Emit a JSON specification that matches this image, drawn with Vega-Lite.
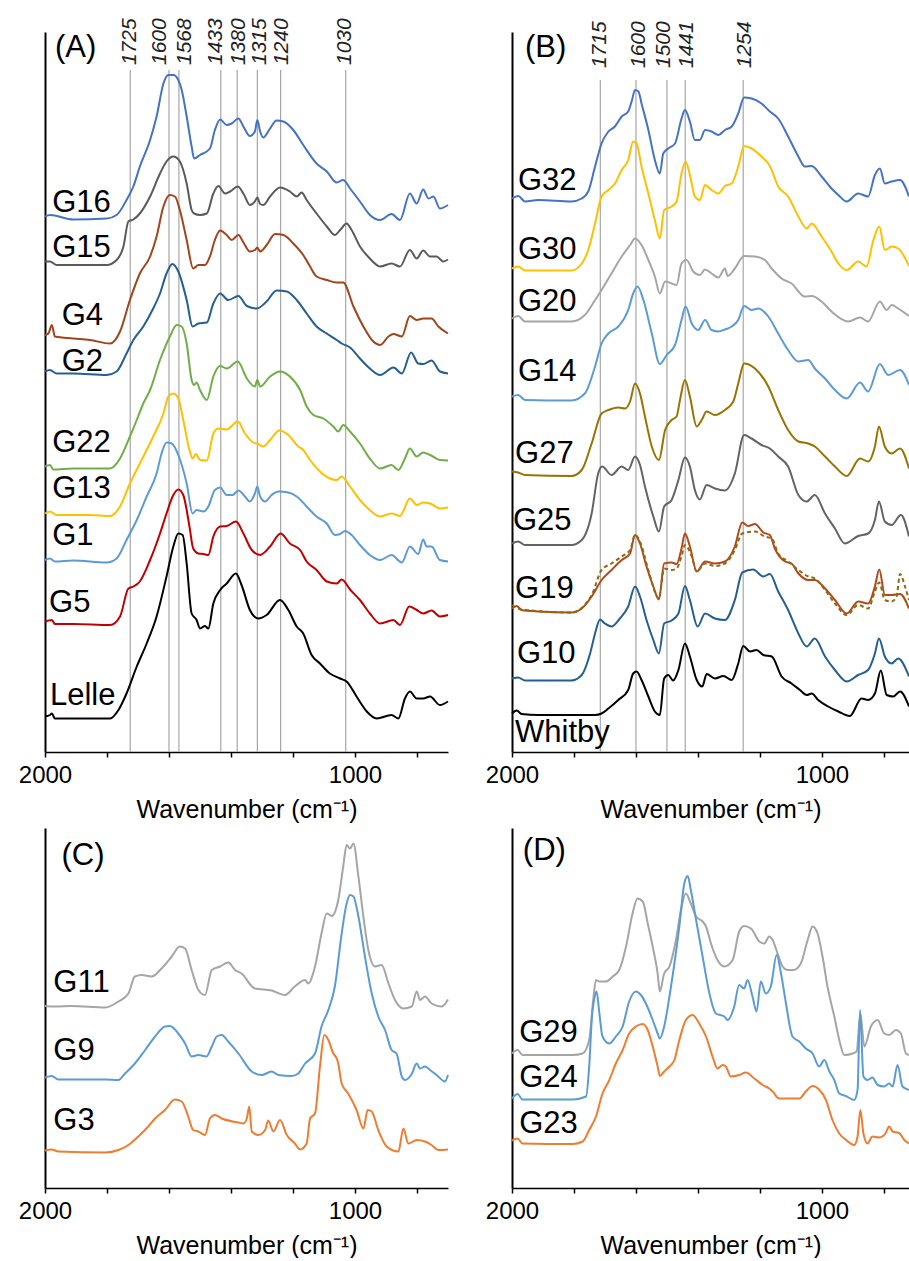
{
"$schema": "https://vega.github.io/schema/vega-lite/v6.json",
"padding": {"left": 18, "top": 18, "right": 0, "bottom": 0},
"background": "white",
"bounds": "flush",
"columns": 2,
"spacing": {"row": 76, "column": 64},
"config": {"view": {"stroke": null}, "font": "Liberation Sans",
  "line": {"interpolate": "monotone", "strokeWidth": 2},
  "axis": {"grid": false, "domainColor": "#000", "tickColor": "#000", "labelColor": "#000", "titleColor": "#000", "labelFont": "Liberation Sans", "titleFont": "Liberation Sans"}},
"datasets": {
"peaksA": [{"wn":1725,"lx":1727},{"wn":1600,"lx":1629},{"wn":1568,"lx":1550},{"wn":1433,"lx":1450},{"wn":1380,"lx":1373},{"wn":1315,"lx":1306},{"wn":1240,"lx":1234},{"wn":1030,"lx":1031}],
"peaksB": [{"wn":1715,"lx":1715},{"wn":1600,"lx":1589},{"wn":1500,"lx":1508},{"wn":1441,"lx":1434},{"wn":1254,"lx":1247}],
"labA": [{"s":"(A)","wn":1968,"a":139},{"s":"G16","wn":1977,"a":108},{"s":"G15","wn":1977,"a":99},{"s":"G4","wn":1946,"a":85.4},{"s":"G2","wn":1946,"a":76.2},{"s":"G22","wn":1977,"a":60},{"s":"G13","wn":1977,"a":50.8},{"s":"G1","wn":1977,"a":41.4},{"s":"G5","wn":1987,"a":28},{"s":"Lelle","wn":1984,"a":9.4}],
"labB": [{"s":"(B)","wn":1958,"a":139},{"s":"G32","wn":1981,"a":112.4},{"s":"G30","wn":1981,"a":98.6},{"s":"G20","wn":1981,"a":88.2},{"s":"G14","wn":1981,"a":74.2},{"s":"G27","wn":1990,"a":57.8},{"s":"G25","wn":1997,"a":44.4},{"s":"G19","wn":1990,"a":30.8},{"s":"G10","wn":1984,"a":17.8},{"s":"Whitby","wn":1990,"a":2.1}],
"labC": [{"s":"(C)","wn":1947,"a":64.6},{"s":"G11","wn":1973,"a":39.2},{"s":"G9","wn":1973,"a":25.6},{"s":"G3","wn":1973,"a":11.6}],
"labD": [{"s":"(D)","wn":1965,"a":65.6},{"s":"G29","wn":1977,"a":29.2},{"s":"G24","wn":1977,"a":20.2},{"s":"G23","wn":1977,"a":11}],
"A": [
{"s":"G16","wn":2000,"a":107.1},{"s":"G16","wn":1984,"a":107.4},{"s":"G16","wn":1909,"a":106.5},{"s":"G16","wn":1801,"a":106.7},{"s":"G16","wn":1769,"a":107.4},{"s":"G16","wn":1737,"a":110.4},{"s":"G16","wn":1715,"a":113.1},{"s":"G16","wn":1694,"a":117.1},{"s":"G16","wn":1661,"a":122.4},{"s":"G16","wn":1640,"a":127.1},{"s":"G16","wn":1618,"a":133.7},{"s":"G16","wn":1602,"a":135.4},{"s":"G16","wn":1586,"a":135.4},{"s":"G16","wn":1570,"a":134.4},{"s":"G16","wn":1559,"a":132.4},{"s":"G16","wn":1543,"a":127.1},{"s":"G16","wn":1527,"a":121.1},{"s":"G16","wn":1519,"a":118.7},{"s":"G16","wn":1500,"a":119.4},{"s":"G16","wn":1468,"a":120.7},{"s":"G16","wn":1452,"a":124.4},{"s":"G16","wn":1435,"a":126.5},{"s":"G16","wn":1414,"a":125.4},{"s":"G16","wn":1398,"a":125.7},{"s":"G16","wn":1376,"a":126.7},{"s":"G16","wn":1360,"a":125.1},{"s":"G16","wn":1339,"a":123.2},{"s":"G16","wn":1323,"a":124.1},{"s":"G16","wn":1315,"a":126.4},{"s":"G16","wn":1306,"a":124.1},{"s":"G16","wn":1296,"a":122.9},{"s":"G16","wn":1274,"a":124.7},{"s":"G16","wn":1253,"a":126.3},{"s":"G16","wn":1231,"a":126.1},{"s":"G16","wn":1199,"a":124.4},{"s":"G16","wn":1167,"a":121.4},{"s":"G16","wn":1124,"a":117.7},{"s":"G16","wn":1091,"a":116.1},{"s":"G16","wn":1059,"a":113.9},{"s":"G16","wn":1038,"a":114.4},{"s":"G16","wn":1016,"a":112.7},{"s":"G16","wn":984,"a":110.1},{"s":"G16","wn":952,"a":107.4},{"s":"G16","wn":919,"a":106.4},{"s":"G16","wn":882,"a":107.6},{"s":"G16","wn":855,"a":106.4},{"s":"G16","wn":823,"a":111.7},{"s":"G16","wn":801,"a":109.7},{"s":"G16","wn":780,"a":112.5},{"s":"G16","wn":763,"a":110.7},{"s":"G16","wn":747,"a":111.1},{"s":"G16","wn":726,"a":108.7},{"s":"G16","wn":700,"a":109.4},
{"s":"G15","wn":2000,"a":98.1},{"s":"G15","wn":1984,"a":98.1},{"s":"G15","wn":1962,"a":97.4},{"s":"G15","wn":1909,"a":97.4},{"s":"G15","wn":1801,"a":97.4},{"s":"G15","wn":1769,"a":98.4},{"s":"G15","wn":1747,"a":101.1},{"s":"G15","wn":1731,"a":106.1},{"s":"G15","wn":1715,"a":106.5},{"s":"G15","wn":1694,"a":107.7},{"s":"G15","wn":1661,"a":111.1},{"s":"G15","wn":1629,"a":115.7},{"s":"G15","wn":1608,"a":118.1},{"s":"G15","wn":1586,"a":119.1},{"s":"G15","wn":1565,"a":118.1},{"s":"G15","wn":1543,"a":113.7},{"s":"G15","wn":1527,"a":108.4},{"s":"G15","wn":1519,"a":107.7},{"s":"G15","wn":1500,"a":107.4},{"s":"G15","wn":1478,"a":107.7},{"s":"G15","wn":1457,"a":111.7},{"s":"G15","wn":1441,"a":113.2},{"s":"G15","wn":1419,"a":111.7},{"s":"G15","wn":1403,"a":112.1},{"s":"G15","wn":1378,"a":113.1},{"s":"G15","wn":1360,"a":111.7},{"s":"G15","wn":1339,"a":109.4},{"s":"G15","wn":1323,"a":110.1},{"s":"G15","wn":1315,"a":110.9},{"s":"G15","wn":1306,"a":109.6},{"s":"G15","wn":1296,"a":109.4},{"s":"G15","wn":1274,"a":111.1},{"s":"G15","wn":1242,"a":112.9},{"s":"G15","wn":1210,"a":112.1},{"s":"G15","wn":1188,"a":111.1},{"s":"G15","wn":1172,"a":111.9},{"s":"G15","wn":1156,"a":110.4},{"s":"G15","wn":1124,"a":107.7},{"s":"G15","wn":1091,"a":105.1},{"s":"G15","wn":1065,"a":103.4},{"s":"G15","wn":1048,"a":104.4},{"s":"G15","wn":1027,"a":105.7},{"s":"G15","wn":1011,"a":104.4},{"s":"G15","wn":984,"a":101.1},{"s":"G15","wn":952,"a":98.7},{"s":"G15","wn":919,"a":97.1},{"s":"G15","wn":882,"a":97.7},{"s":"G15","wn":855,"a":97.1},{"s":"G15","wn":823,"a":100.4},{"s":"G15","wn":801,"a":98.7},{"s":"G15","wn":780,"a":100.3},{"s":"G15","wn":758,"a":99.1},{"s":"G15","wn":737,"a":99.1},{"s":"G15","wn":715,"a":98.1},{"s":"G15","wn":700,"a":98.5},
{"s":"G4","wn":2000,"a":83.4},{"s":"G4","wn":1989,"a":83.7},{"s":"G4","wn":1978,"a":85.4},{"s":"G4","wn":1968,"a":83.1},{"s":"G4","wn":1909,"a":82.7},{"s":"G4","wn":1855,"a":82.4},{"s":"G4","wn":1790,"a":81.7},{"s":"G4","wn":1758,"a":84.1},{"s":"G4","wn":1726,"a":90.4},{"s":"G4","wn":1694,"a":95.7},{"s":"G4","wn":1661,"a":99.1},{"s":"G4","wn":1640,"a":103.1},{"s":"G4","wn":1618,"a":109.1},{"s":"G4","wn":1597,"a":111.4},{"s":"G4","wn":1581,"a":111.1},{"s":"G4","wn":1565,"a":108.4},{"s":"G4","wn":1543,"a":102.4},{"s":"G4","wn":1522,"a":96.7},{"s":"G4","wn":1505,"a":97.4},{"s":"G4","wn":1484,"a":97.4},{"s":"G4","wn":1468,"a":99.1},{"s":"G4","wn":1452,"a":102.4},{"s":"G4","wn":1435,"a":104.3},{"s":"G4","wn":1414,"a":103.4},{"s":"G4","wn":1398,"a":102.4},{"s":"G4","wn":1376,"a":103.4},{"s":"G4","wn":1360,"a":101.9},{"s":"G4","wn":1339,"a":100.1},{"s":"G4","wn":1323,"a":100.4},{"s":"G4","wn":1315,"a":100.9},{"s":"G4","wn":1306,"a":100.1},{"s":"G4","wn":1285,"a":101.4},{"s":"G4","wn":1258,"a":103.6},{"s":"G4","wn":1231,"a":103.4},{"s":"G4","wn":1199,"a":101.7},{"s":"G4","wn":1167,"a":99.4},{"s":"G4","wn":1145,"a":97.1},{"s":"G4","wn":1124,"a":95.1},{"s":"G4","wn":1091,"a":94.4},{"s":"G4","wn":1059,"a":93.9},{"s":"G4","wn":1038,"a":93.9},{"s":"G4","wn":1005,"a":89.1},{"s":"G4","wn":973,"a":85.1},{"s":"G4","wn":941,"a":82.1},{"s":"G4","wn":919,"a":81.4},{"s":"G4","wn":892,"a":83.1},{"s":"G4","wn":876,"a":83.6},{"s":"G4","wn":849,"a":83.1},{"s":"G4","wn":823,"a":87.2},{"s":"G4","wn":801,"a":86.4},{"s":"G4","wn":780,"a":86.7},{"s":"G4","wn":753,"a":86.7},{"s":"G4","wn":731,"a":85.1},{"s":"G4","wn":700,"a":83.7},
{"s":"G2","wn":2000,"a":76.1},{"s":"G2","wn":1984,"a":76.4},{"s":"G2","wn":1962,"a":75.7},{"s":"G2","wn":1909,"a":75.7},{"s":"G2","wn":1801,"a":75.4},{"s":"G2","wn":1769,"a":76.1},{"s":"G2","wn":1737,"a":79.7},{"s":"G2","wn":1715,"a":82.4},{"s":"G2","wn":1683,"a":85.1},{"s":"G2","wn":1651,"a":88.7},{"s":"G2","wn":1629,"a":91.7},{"s":"G2","wn":1608,"a":95.7},{"s":"G2","wn":1589,"a":97.6},{"s":"G2","wn":1570,"a":96.1},{"s":"G2","wn":1543,"a":90.4},{"s":"G2","wn":1524,"a":85.1},{"s":"G2","wn":1505,"a":85.7},{"s":"G2","wn":1478,"a":85.9},{"s":"G2","wn":1457,"a":89.7},{"s":"G2","wn":1435,"a":91.7},{"s":"G2","wn":1409,"a":90.4},{"s":"G2","wn":1376,"a":91.2},{"s":"G2","wn":1349,"a":89.2},{"s":"G2","wn":1317,"a":88.7},{"s":"G2","wn":1285,"a":90.1},{"s":"G2","wn":1253,"a":92.3},{"s":"G2","wn":1220,"a":92.1},{"s":"G2","wn":1188,"a":90.4},{"s":"G2","wn":1156,"a":87.7},{"s":"G2","wn":1124,"a":85.1},{"s":"G2","wn":1091,"a":83.7},{"s":"G2","wn":1059,"a":82.4},{"s":"G2","wn":1043,"a":81.7},{"s":"G2","wn":1016,"a":80.9},{"s":"G2","wn":984,"a":78.7},{"s":"G2","wn":952,"a":76.7},{"s":"G2","wn":919,"a":75.4},{"s":"G2","wn":876,"a":76.9},{"s":"G2","wn":849,"a":75.7},{"s":"G2","wn":819,"a":79.9},{"s":"G2","wn":796,"a":77.7},{"s":"G2","wn":780,"a":77.6},{"s":"G2","wn":753,"a":78.3},{"s":"G2","wn":726,"a":76.1},{"s":"G2","wn":700,"a":75.7},
{"s":"G22","wn":2000,"a":57.1},{"s":"G22","wn":1984,"a":57.4},{"s":"G22","wn":1973,"a":56.5},{"s":"G22","wn":1909,"a":56.7},{"s":"G22","wn":1790,"a":56.7},{"s":"G22","wn":1758,"a":58.7},{"s":"G22","wn":1726,"a":63.1},{"s":"G22","wn":1704,"a":66.4},{"s":"G22","wn":1683,"a":69.7},{"s":"G22","wn":1661,"a":72.4},{"s":"G22","wn":1629,"a":78.4},{"s":"G22","wn":1597,"a":83.1},{"s":"G22","wn":1575,"a":85.4},{"s":"G22","wn":1559,"a":85.1},{"s":"G22","wn":1543,"a":81.7},{"s":"G22","wn":1527,"a":74.4},{"s":"G22","wn":1519,"a":73.4},{"s":"G22","wn":1511,"a":73.9},{"s":"G22","wn":1500,"a":72.4},{"s":"G22","wn":1478,"a":70.4},{"s":"G22","wn":1457,"a":75.1},{"s":"G22","wn":1435,"a":77.2},{"s":"G22","wn":1414,"a":76.7},{"s":"G22","wn":1378,"a":78.1},{"s":"G22","wn":1349,"a":74.7},{"s":"G22","wn":1323,"a":73.1},{"s":"G22","wn":1315,"a":74.4},{"s":"G22","wn":1306,"a":73.1},{"s":"G22","wn":1274,"a":75.1},{"s":"G22","wn":1242,"a":76.1},{"s":"G22","wn":1210,"a":75.1},{"s":"G22","wn":1177,"a":72.4},{"s":"G22","wn":1156,"a":69.1},{"s":"G22","wn":1134,"a":67.4},{"s":"G22","wn":1102,"a":66.7},{"s":"G22","wn":1070,"a":65.1},{"s":"G22","wn":1054,"a":64.1},{"s":"G22","wn":1038,"a":65.4},{"s":"G22","wn":1016,"a":64.1},{"s":"G22","wn":984,"a":61.7},{"s":"G22","wn":952,"a":58.7},{"s":"G22","wn":919,"a":56.7},{"s":"G22","wn":882,"a":57.4},{"s":"G22","wn":860,"a":56.4},{"s":"G22","wn":839,"a":58.7},{"s":"G22","wn":823,"a":60.7},{"s":"G22","wn":801,"a":59.1},{"s":"G22","wn":780,"a":59.9},{"s":"G22","wn":758,"a":59.4},{"s":"G22","wn":726,"a":58.4},{"s":"G22","wn":700,"a":58.3},
{"s":"G13","wn":2000,"a":47.7},{"s":"G13","wn":1984,"a":48.1},{"s":"G13","wn":1962,"a":47.4},{"s":"G13","wn":1855,"a":47.4},{"s":"G13","wn":1790,"a":47.2},{"s":"G13","wn":1758,"a":49.1},{"s":"G13","wn":1726,"a":53.7},{"s":"G13","wn":1694,"a":57.7},{"s":"G13","wn":1651,"a":63.1},{"s":"G13","wn":1618,"a":67.7},{"s":"G13","wn":1602,"a":71.1},{"s":"G13","wn":1586,"a":71.7},{"s":"G13","wn":1570,"a":70.7},{"s":"G13","wn":1554,"a":66.4},{"s":"G13","wn":1534,"a":60.4},{"s":"G13","wn":1524,"a":58.7},{"s":"G13","wn":1513,"a":59.6},{"s":"G13","wn":1500,"a":58.4},{"s":"G13","wn":1478,"a":58.3},{"s":"G13","wn":1457,"a":63.7},{"s":"G13","wn":1441,"a":64.7},{"s":"G13","wn":1414,"a":64.5},{"s":"G13","wn":1378,"a":66.1},{"s":"G13","wn":1355,"a":63.7},{"s":"G13","wn":1328,"a":61.9},{"s":"G13","wn":1312,"a":61.6},{"s":"G13","wn":1296,"a":61.1},{"s":"G13","wn":1274,"a":62.4},{"s":"G13","wn":1244,"a":64.3},{"s":"G13","wn":1215,"a":63.4},{"s":"G13","wn":1183,"a":61.1},{"s":"G13","wn":1167,"a":60.4},{"s":"G13","wn":1145,"a":58.4},{"s":"G13","wn":1113,"a":56.1},{"s":"G13","wn":1081,"a":54.7},{"s":"G13","wn":1059,"a":54.4},{"s":"G13","wn":1043,"a":55.1},{"s":"G13","wn":1016,"a":53.1},{"s":"G13","wn":984,"a":50.4},{"s":"G13","wn":952,"a":48.4},{"s":"G13","wn":919,"a":47.1},{"s":"G13","wn":882,"a":47.7},{"s":"G13","wn":855,"a":47.2},{"s":"G13","wn":823,"a":50.7},{"s":"G13","wn":801,"a":49.4},{"s":"G13","wn":780,"a":49.9},{"s":"G13","wn":758,"a":49.7},{"s":"G13","wn":726,"a":48.7},{"s":"G13","wn":700,"a":48.9},
{"s":"G1","wn":2000,"a":38.4},{"s":"G1","wn":1984,"a":38.7},{"s":"G1","wn":1968,"a":38.1},{"s":"G1","wn":1909,"a":38.3},{"s":"G1","wn":1801,"a":37.9},{"s":"G1","wn":1769,"a":38.7},{"s":"G1","wn":1737,"a":42.4},{"s":"G1","wn":1704,"a":46.4},{"s":"G1","wn":1672,"a":51.1},{"s":"G1","wn":1640,"a":55.7},{"s":"G1","wn":1624,"a":59.7},{"s":"G1","wn":1608,"a":61.9},{"s":"G1","wn":1591,"a":61.7},{"s":"G1","wn":1570,"a":59.4},{"s":"G1","wn":1543,"a":53.7},{"s":"G1","wn":1524,"a":47.7},{"s":"G1","wn":1511,"a":48.4},{"s":"G1","wn":1489,"a":48.1},{"s":"G1","wn":1473,"a":49.1},{"s":"G1","wn":1452,"a":52.4},{"s":"G1","wn":1435,"a":52.9},{"s":"G1","wn":1414,"a":51.4},{"s":"G1","wn":1395,"a":51.4},{"s":"G1","wn":1376,"a":52.3},{"s":"G1","wn":1355,"a":51.1},{"s":"G1","wn":1339,"a":50.1},{"s":"G1","wn":1323,"a":51.7},{"s":"G1","wn":1315,"a":53.1},{"s":"G1","wn":1306,"a":51.1},{"s":"G1","wn":1290,"a":50.1},{"s":"G1","wn":1269,"a":51.4},{"s":"G1","wn":1247,"a":52.1},{"s":"G1","wn":1215,"a":51.9},{"s":"G1","wn":1188,"a":51.1},{"s":"G1","wn":1156,"a":49.1},{"s":"G1","wn":1124,"a":47.1},{"s":"G1","wn":1091,"a":45.7},{"s":"G1","wn":1065,"a":43.4},{"s":"G1","wn":1048,"a":43.6},{"s":"G1","wn":1032,"a":44.2},{"s":"G1","wn":1011,"a":43.4},{"s":"G1","wn":984,"a":41.4},{"s":"G1","wn":952,"a":39.4},{"s":"G1","wn":919,"a":38.4},{"s":"G1","wn":882,"a":39.4},{"s":"G1","wn":849,"a":37.9},{"s":"G1","wn":823,"a":41.1},{"s":"G1","wn":796,"a":39.6},{"s":"G1","wn":780,"a":42.5},{"s":"G1","wn":769,"a":41.1},{"s":"G1","wn":753,"a":41.1},{"s":"G1","wn":726,"a":38.4},{"s":"G1","wn":700,"a":38.1},
{"s":"G5","wn":2000,"a":26.1},{"s":"G5","wn":1978,"a":26.4},{"s":"G5","wn":1968,"a":25.6},{"s":"G5","wn":1909,"a":25.6},{"s":"G5","wn":1790,"a":25.4},{"s":"G5","wn":1758,"a":27.1},{"s":"G5","wn":1731,"a":32.7},{"s":"G5","wn":1715,"a":33.1},{"s":"G5","wn":1694,"a":34.1},{"s":"G5","wn":1661,"a":38.4},{"s":"G5","wn":1629,"a":43.7},{"s":"G5","wn":1608,"a":47.7},{"s":"G5","wn":1586,"a":51.4},{"s":"G5","wn":1570,"a":52.5},{"s":"G5","wn":1554,"a":51.4},{"s":"G5","wn":1534,"a":45.1},{"s":"G5","wn":1522,"a":40.7},{"s":"G5","wn":1505,"a":39.7},{"s":"G5","wn":1489,"a":39.6},{"s":"G5","wn":1473,"a":39.4},{"s":"G5","wn":1457,"a":43.1},{"s":"G5","wn":1435,"a":45.1},{"s":"G5","wn":1414,"a":45.2},{"s":"G5","wn":1384,"a":46.1},{"s":"G5","wn":1360,"a":43.7},{"s":"G5","wn":1333,"a":40.4},{"s":"G5","wn":1306,"a":39.4},{"s":"G5","wn":1274,"a":41.1},{"s":"G5","wn":1240,"a":43.7},{"s":"G5","wn":1210,"a":41.7},{"s":"G5","wn":1177,"a":40.4},{"s":"G5","wn":1156,"a":38.1},{"s":"G5","wn":1124,"a":36.4},{"s":"G5","wn":1091,"a":34.1},{"s":"G5","wn":1059,"a":33.7},{"s":"G5","wn":1043,"a":34.5},{"s":"G5","wn":1016,"a":32.5},{"s":"G5","wn":984,"a":30.4},{"s":"G5","wn":952,"a":27.7},{"s":"G5","wn":919,"a":25.7},{"s":"G5","wn":876,"a":26.4},{"s":"G5","wn":855,"a":25.4},{"s":"G5","wn":825,"a":29.1},{"s":"G5","wn":801,"a":28.4},{"s":"G5","wn":780,"a":27.7},{"s":"G5","wn":753,"a":28.3},{"s":"G5","wn":726,"a":27.1},{"s":"G5","wn":700,"a":27.4},
{"s":"Lelle","wn":2000,"a":7.1},{"s":"Lelle","wn":1984,"a":7.4},{"s":"Lelle","wn":1978,"a":7.7},{"s":"Lelle","wn":1968,"a":6.7},{"s":"Lelle","wn":1909,"a":6.7},{"s":"Lelle","wn":1790,"a":6.7},{"s":"Lelle","wn":1763,"a":8.4},{"s":"Lelle","wn":1737,"a":11.7},{"s":"Lelle","wn":1704,"a":17.1},{"s":"Lelle","wn":1672,"a":21.7},{"s":"Lelle","wn":1640,"a":27.1},{"s":"Lelle","wn":1608,"a":35.1},{"s":"Lelle","wn":1586,"a":41.1},{"s":"Lelle","wn":1570,"a":43.7},{"s":"Lelle","wn":1556,"a":43.4},{"s":"Lelle","wn":1543,"a":37.7},{"s":"Lelle","wn":1527,"a":27.7},{"s":"Lelle","wn":1511,"a":26.4},{"s":"Lelle","wn":1500,"a":24.7},{"s":"Lelle","wn":1484,"a":25.2},{"s":"Lelle","wn":1473,"a":24.7},{"s":"Lelle","wn":1457,"a":29.7},{"s":"Lelle","wn":1435,"a":32.4},{"s":"Lelle","wn":1414,"a":33.7},{"s":"Lelle","wn":1384,"a":35.7},{"s":"Lelle","wn":1366,"a":33.4},{"s":"Lelle","wn":1339,"a":28.4},{"s":"Lelle","wn":1312,"a":26.7},{"s":"Lelle","wn":1285,"a":27.4},{"s":"Lelle","wn":1242,"a":30.4},{"s":"Lelle","wn":1215,"a":28.4},{"s":"Lelle","wn":1188,"a":25.1},{"s":"Lelle","wn":1167,"a":23.7},{"s":"Lelle","wn":1140,"a":19.4},{"s":"Lelle","wn":1113,"a":17.7},{"s":"Lelle","wn":1081,"a":15.7},{"s":"Lelle","wn":1048,"a":14.7},{"s":"Lelle","wn":1027,"a":14.1},{"s":"Lelle","wn":995,"a":11.1},{"s":"Lelle","wn":962,"a":8.1},{"s":"Lelle","wn":930,"a":6.7},{"s":"Lelle","wn":882,"a":7.4},{"s":"Lelle","wn":860,"a":6.7},{"s":"Lelle","wn":839,"a":10.7},{"s":"Lelle","wn":823,"a":12.1},{"s":"Lelle","wn":801,"a":10.7},{"s":"Lelle","wn":780,"a":10.7},{"s":"Lelle","wn":758,"a":11.1},{"s":"Lelle","wn":726,"a":9.4},{"s":"Lelle","wn":700,"a":10.1}
],
"B": [
{"s":"G32","wn":2000,"a":110.7},{"s":"G32","wn":1980,"a":111.2},{"s":"G32","wn":1958,"a":110.1},{"s":"G32","wn":1915,"a":110.4},{"s":"G32","wn":1808,"a":110.1},{"s":"G32","wn":1775,"a":110.7},{"s":"G32","wn":1754,"a":112.1},{"s":"G32","wn":1732,"a":117.1},{"s":"G32","wn":1711,"a":121.7},{"s":"G32","wn":1689,"a":124.1},{"s":"G32","wn":1668,"a":125.1},{"s":"G32","wn":1646,"a":127.1},{"s":"G32","wn":1625,"a":128.1},{"s":"G32","wn":1614,"a":130.1},{"s":"G32","wn":1603,"a":132.4},{"s":"G32","wn":1592,"a":132.1},{"s":"G32","wn":1582,"a":129.7},{"s":"G32","wn":1560,"a":124.4},{"s":"G32","wn":1539,"a":118.4},{"s":"G32","wn":1523,"a":115.7},{"s":"G32","wn":1512,"a":119.7},{"s":"G32","wn":1496,"a":120.7},{"s":"G32","wn":1474,"a":121.7},{"s":"G32","wn":1453,"a":126.7},{"s":"G32","wn":1442,"a":128.4},{"s":"G32","wn":1426,"a":126.1},{"s":"G32","wn":1410,"a":122.4},{"s":"G32","wn":1394,"a":122.4},{"s":"G32","wn":1377,"a":124.4},{"s":"G32","wn":1356,"a":124.1},{"s":"G32","wn":1334,"a":123.4},{"s":"G32","wn":1313,"a":124.4},{"s":"G32","wn":1291,"a":125.1},{"s":"G32","wn":1270,"a":127.7},{"s":"G32","wn":1251,"a":130.9},{"s":"G32","wn":1227,"a":130.7},{"s":"G32","wn":1195,"a":129.7},{"s":"G32","wn":1168,"a":128.1},{"s":"G32","wn":1141,"a":126.7},{"s":"G32","wn":1109,"a":123.1},{"s":"G32","wn":1076,"a":119.1},{"s":"G32","wn":1055,"a":117.1},{"s":"G32","wn":1033,"a":117.2},{"s":"G32","wn":1001,"a":115.1},{"s":"G32","wn":969,"a":112.7},{"s":"G32","wn":947,"a":111.4},{"s":"G32","wn":920,"a":110.1},{"s":"G32","wn":883,"a":111.7},{"s":"G32","wn":851,"a":111.1},{"s":"G32","wn":829,"a":115.4},{"s":"G32","wn":813,"a":116.7},{"s":"G32","wn":797,"a":113.7},{"s":"G32","wn":775,"a":114.1},{"s":"G32","wn":748,"a":114.4},{"s":"G32","wn":719,"a":111.1},
{"s":"G30","wn":2000,"a":96.7},{"s":"G30","wn":1980,"a":97.1},{"s":"G30","wn":1958,"a":96.3},{"s":"G30","wn":1808,"a":96.3},{"s":"G30","wn":1775,"a":97.7},{"s":"G30","wn":1754,"a":100.4},{"s":"G30","wn":1732,"a":105.7},{"s":"G30","wn":1711,"a":111.1},{"s":"G30","wn":1689,"a":112.4},{"s":"G30","wn":1668,"a":113.7},{"s":"G30","wn":1646,"a":116.4},{"s":"G30","wn":1625,"a":118.4},{"s":"G30","wn":1609,"a":122.1},{"s":"G30","wn":1598,"a":121.7},{"s":"G30","wn":1582,"a":117.1},{"s":"G30","wn":1560,"a":111.7},{"s":"G30","wn":1539,"a":106.4},{"s":"G30","wn":1523,"a":102.7},{"s":"G30","wn":1509,"a":108.4},{"s":"G30","wn":1485,"a":109.1},{"s":"G30","wn":1469,"a":110.1},{"s":"G30","wn":1453,"a":115.7},{"s":"G30","wn":1440,"a":118.1},{"s":"G30","wn":1426,"a":115.4},{"s":"G30","wn":1410,"a":111.1},{"s":"G30","wn":1394,"a":110.4},{"s":"G30","wn":1377,"a":113.4},{"s":"G30","wn":1356,"a":112.4},{"s":"G30","wn":1334,"a":111.7},{"s":"G30","wn":1313,"a":113.2},{"s":"G30","wn":1291,"a":113.7},{"s":"G30","wn":1270,"a":117.1},{"s":"G30","wn":1251,"a":121.2},{"s":"G30","wn":1227,"a":120.7},{"s":"G30","wn":1195,"a":119.1},{"s":"G30","wn":1168,"a":117.2},{"s":"G30","wn":1141,"a":113.1},{"s":"G30","wn":1109,"a":111.1},{"s":"G30","wn":1076,"a":107.1},{"s":"G30","wn":1049,"a":104.7},{"s":"G30","wn":1033,"a":105.7},{"s":"G30","wn":1001,"a":103.1},{"s":"G30","wn":969,"a":100.1},{"s":"G30","wn":947,"a":97.7},{"s":"G30","wn":920,"a":96.4},{"s":"G30","wn":883,"a":98.1},{"s":"G30","wn":856,"a":97.1},{"s":"G30","wn":834,"a":102.4},{"s":"G30","wn":815,"a":105.1},{"s":"G30","wn":797,"a":100.4},{"s":"G30","wn":775,"a":101.1},{"s":"G30","wn":754,"a":100.7},{"s":"G30","wn":719,"a":97.2},
{"s":"G20","wn":2000,"a":86.7},{"s":"G20","wn":1980,"a":87.2},{"s":"G20","wn":1958,"a":86.1},{"s":"G20","wn":1808,"a":86.1},{"s":"G20","wn":1765,"a":87.4},{"s":"G20","wn":1732,"a":90.4},{"s":"G20","wn":1711,"a":92.4},{"s":"G20","wn":1679,"a":95.7},{"s":"G20","wn":1646,"a":99.1},{"s":"G20","wn":1619,"a":101.4},{"s":"G20","wn":1603,"a":102.7},{"s":"G20","wn":1582,"a":101.4},{"s":"G20","wn":1560,"a":98.4},{"s":"G20","wn":1539,"a":95.1},{"s":"G20","wn":1523,"a":91.7},{"s":"G20","wn":1506,"a":94.1},{"s":"G20","wn":1485,"a":93.7},{"s":"G20","wn":1469,"a":93.4},{"s":"G20","wn":1453,"a":97.7},{"s":"G20","wn":1437,"a":98.4},{"s":"G20","wn":1415,"a":96.1},{"s":"G20","wn":1394,"a":95.4},{"s":"G20","wn":1377,"a":96.5},{"s":"G20","wn":1356,"a":95.7},{"s":"G20","wn":1334,"a":94.9},{"s":"G20","wn":1313,"a":96.7},{"s":"G20","wn":1304,"a":95.2},{"s":"G20","wn":1281,"a":96.7},{"s":"G20","wn":1251,"a":99.2},{"s":"G20","wn":1216,"a":99.1},{"s":"G20","wn":1184,"a":98.4},{"s":"G20","wn":1162,"a":96.7},{"s":"G20","wn":1130,"a":94.7},{"s":"G20","wn":1098,"a":93.7},{"s":"G20","wn":1055,"a":91.1},{"s":"G20","wn":1033,"a":91.2},{"s":"G20","wn":1001,"a":90.1},{"s":"G20","wn":969,"a":88.1},{"s":"G20","wn":915,"a":86.1},{"s":"G20","wn":877,"a":86.9},{"s":"G20","wn":851,"a":86.1},{"s":"G20","wn":813,"a":90.1},{"s":"G20","wn":791,"a":88.4},{"s":"G20","wn":775,"a":89.4},{"s":"G20","wn":754,"a":88.7},{"s":"G20","wn":719,"a":87.2},
{"s":"G14","wn":2000,"a":71.1},{"s":"G14","wn":1980,"a":71.4},{"s":"G14","wn":1958,"a":70.4},{"s":"G14","wn":1808,"a":70.3},{"s":"G14","wn":1765,"a":71.7},{"s":"G14","wn":1732,"a":77.1},{"s":"G14","wn":1711,"a":81.7},{"s":"G14","wn":1689,"a":83.7},{"s":"G14","wn":1657,"a":85.1},{"s":"G14","wn":1625,"a":88.4},{"s":"G14","wn":1609,"a":91.7},{"s":"G14","wn":1595,"a":93.1},{"s":"G14","wn":1576,"a":90.4},{"s":"G14","wn":1549,"a":83.7},{"s":"G14","wn":1523,"a":77.6},{"s":"G14","wn":1501,"a":79.4},{"s":"G14","wn":1474,"a":81.4},{"s":"G14","wn":1453,"a":86.4},{"s":"G14","wn":1440,"a":89.1},{"s":"G14","wn":1420,"a":85.7},{"s":"G14","wn":1399,"a":84.4},{"s":"G14","wn":1377,"a":86.4},{"s":"G14","wn":1356,"a":84.4},{"s":"G14","wn":1334,"a":84.1},{"s":"G14","wn":1313,"a":84.5},{"s":"G14","wn":1291,"a":85.1},{"s":"G14","wn":1270,"a":86.4},{"s":"G14","wn":1251,"a":89.2},{"s":"G14","wn":1227,"a":88.4},{"s":"G14","wn":1205,"a":88.7},{"s":"G14","wn":1173,"a":87.1},{"s":"G14","wn":1141,"a":83.7},{"s":"G14","wn":1109,"a":80.4},{"s":"G14","wn":1076,"a":78.1},{"s":"G14","wn":1044,"a":78.4},{"s":"G14","wn":1023,"a":76.7},{"s":"G14","wn":990,"a":74.7},{"s":"G14","wn":958,"a":72.4},{"s":"G14","wn":920,"a":70.7},{"s":"G14","wn":877,"a":73.9},{"s":"G14","wn":851,"a":72.1},{"s":"G14","wn":813,"a":77.6},{"s":"G14","wn":786,"a":75.4},{"s":"G14","wn":748,"a":76.4},{"s":"G14","wn":719,"a":73.4},
{"s":"G27","wn":2000,"a":56.1},{"s":"G27","wn":1980,"a":55.9},{"s":"G27","wn":1958,"a":55.4},{"s":"G27","wn":1808,"a":55.2},{"s":"G27","wn":1775,"a":56.4},{"s":"G27","wn":1743,"a":61.7},{"s":"G27","wn":1711,"a":67.7},{"s":"G27","wn":1689,"a":68.4},{"s":"G27","wn":1657,"a":68.9},{"s":"G27","wn":1635,"a":68.7},{"s":"G27","wn":1619,"a":70.1},{"s":"G27","wn":1603,"a":73.7},{"s":"G27","wn":1587,"a":71.7},{"s":"G27","wn":1571,"a":67.1},{"s":"G27","wn":1549,"a":61.1},{"s":"G27","wn":1526,"a":58.4},{"s":"G27","wn":1506,"a":64.4},{"s":"G27","wn":1485,"a":66.4},{"s":"G27","wn":1469,"a":67.1},{"s":"G27","wn":1458,"a":70.4},{"s":"G27","wn":1442,"a":74.4},{"s":"G27","wn":1426,"a":71.1},{"s":"G27","wn":1404,"a":65.1},{"s":"G27","wn":1388,"a":66.4},{"s":"G27","wn":1372,"a":68.1},{"s":"G27","wn":1345,"a":67.4},{"s":"G27","wn":1313,"a":68.4},{"s":"G27","wn":1286,"a":70.1},{"s":"G27","wn":1270,"a":73.7},{"s":"G27","wn":1251,"a":77.7},{"s":"G27","wn":1216,"a":76.7},{"s":"G27","wn":1173,"a":73.1},{"s":"G27","wn":1141,"a":68.4},{"s":"G27","wn":1109,"a":64.4},{"s":"G27","wn":1076,"a":62.1},{"s":"G27","wn":1044,"a":61.7},{"s":"G27","wn":1023,"a":61.1},{"s":"G27","wn":990,"a":59.1},{"s":"G27","wn":958,"a":57.1},{"s":"G27","wn":920,"a":55.2},{"s":"G27","wn":877,"a":58.7},{"s":"G27","wn":851,"a":58.1},{"s":"G27","wn":829,"a":61.1},{"s":"G27","wn":816,"a":65.1},{"s":"G27","wn":797,"a":61.1},{"s":"G27","wn":775,"a":59.7},{"s":"G27","wn":748,"a":60.7},{"s":"G27","wn":719,"a":56.7},
{"s":"G25","wn":2000,"a":41.7},{"s":"G25","wn":1980,"a":42.1},{"s":"G25","wn":1958,"a":41.4},{"s":"G25","wn":1808,"a":41.4},{"s":"G25","wn":1775,"a":42.4},{"s":"G25","wn":1743,"a":47.7},{"s":"G25","wn":1722,"a":55.7},{"s":"G25","wn":1709,"a":57.1},{"s":"G25","wn":1679,"a":55.4},{"s":"G25","wn":1646,"a":57.1},{"s":"G25","wn":1625,"a":56.4},{"s":"G25","wn":1603,"a":59.1},{"s":"G25","wn":1587,"a":57.4},{"s":"G25","wn":1571,"a":53.1},{"s":"G25","wn":1544,"a":47.1},{"s":"G25","wn":1526,"a":44.1},{"s":"G25","wn":1509,"a":49.1},{"s":"G25","wn":1485,"a":50.4},{"s":"G25","wn":1463,"a":54.4},{"s":"G25","wn":1442,"a":58.9},{"s":"G25","wn":1426,"a":57.1},{"s":"G25","wn":1410,"a":52.4},{"s":"G25","wn":1394,"a":50.5},{"s":"G25","wn":1372,"a":53.4},{"s":"G25","wn":1345,"a":52.7},{"s":"G25","wn":1313,"a":52.3},{"s":"G25","wn":1281,"a":55.7},{"s":"G25","wn":1251,"a":63.4},{"s":"G25","wn":1227,"a":62.7},{"s":"G25","wn":1195,"a":61.4},{"s":"G25","wn":1168,"a":60.7},{"s":"G25","wn":1141,"a":59.1},{"s":"G25","wn":1109,"a":57.1},{"s":"G25","wn":1076,"a":51.4},{"s":"G25","wn":1049,"a":50.1},{"s":"G25","wn":1023,"a":51.4},{"s":"G25","wn":990,"a":47.7},{"s":"G25","wn":958,"a":44.7},{"s":"G25","wn":926,"a":41.7},{"s":"G25","wn":883,"a":43.2},{"s":"G25","wn":851,"a":43.7},{"s":"G25","wn":829,"a":46.4},{"s":"G25","wn":816,"a":50.1},{"s":"G25","wn":797,"a":46.1},{"s":"G25","wn":775,"a":45.4},{"s":"G25","wn":745,"a":47.4},{"s":"G25","wn":719,"a":43.1},
{"s":"G19","wn":2000,"a":28.7},{"s":"G19","wn":1985,"a":29.2},{"s":"G19","wn":1969,"a":28.4},{"s":"G19","wn":1915,"a":28.1},{"s":"G19","wn":1808,"a":27.9},{"s":"G19","wn":1775,"a":28.7},{"s":"G19","wn":1743,"a":31.1},{"s":"G19","wn":1711,"a":34.4},{"s":"G19","wn":1679,"a":36.4},{"s":"G19","wn":1646,"a":38.4},{"s":"G19","wn":1619,"a":39.7},{"s":"G19","wn":1603,"a":43.4},{"s":"G19","wn":1587,"a":41.7},{"s":"G19","wn":1566,"a":37.1},{"s":"G19","wn":1544,"a":33.1},{"s":"G19","wn":1526,"a":30.5},{"s":"G19","wn":1509,"a":37.7},{"s":"G19","wn":1485,"a":37.9},{"s":"G19","wn":1469,"a":37.6},{"s":"G19","wn":1453,"a":40.7},{"s":"G19","wn":1442,"a":43.7},{"s":"G19","wn":1426,"a":41.1},{"s":"G19","wn":1404,"a":36.1},{"s":"G19","wn":1377,"a":38.1},{"s":"G19","wn":1345,"a":37.7},{"s":"G19","wn":1313,"a":38.1},{"s":"G19","wn":1281,"a":41.1},{"s":"G19","wn":1257,"a":45.9},{"s":"G19","wn":1238,"a":45.2},{"s":"G19","wn":1216,"a":45.6},{"s":"G19","wn":1189,"a":43.9},{"s":"G19","wn":1168,"a":43.4},{"s":"G19","wn":1152,"a":40.7},{"s":"G19","wn":1119,"a":38.1},{"s":"G19","wn":1098,"a":37.7},{"s":"G19","wn":1076,"a":35.7},{"s":"G19","wn":1044,"a":34.4},{"s":"G19","wn":1023,"a":34.4},{"s":"G19","wn":990,"a":32.7},{"s":"G19","wn":958,"a":30.4},{"s":"G19","wn":920,"a":27.7},{"s":"G19","wn":883,"a":30.1},{"s":"G19","wn":851,"a":29.7},{"s":"G19","wn":829,"a":33.1},{"s":"G19","wn":815,"a":36.5},{"s":"G19","wn":797,"a":31.4},{"s":"G19","wn":775,"a":31.4},{"s":"G19","wn":748,"a":31.6},{"s":"G19","wn":719,"a":28.7},
{"s":"G19b","wn":2000,"a":29.4},{"s":"G19b","wn":1969,"a":28.5},{"s":"G19b","wn":1808,"a":27.9},{"s":"G19b","wn":1743,"a":31.4},{"s":"G19b","wn":1711,"a":36.4},{"s":"G19b","wn":1679,"a":37.7},{"s":"G19b","wn":1646,"a":39.1},{"s":"G19b","wn":1619,"a":40.4},{"s":"G19b","wn":1603,"a":43.4},{"s":"G19b","wn":1587,"a":42.1},{"s":"G19b","wn":1560,"a":36.4},{"s":"G19b","wn":1526,"a":30.7},{"s":"G19b","wn":1509,"a":36.7},{"s":"G19b","wn":1485,"a":36.4},{"s":"G19b","wn":1469,"a":36.7},{"s":"G19b","wn":1453,"a":39.1},{"s":"G19b","wn":1442,"a":41.4},{"s":"G19b","wn":1420,"a":39.1},{"s":"G19b","wn":1404,"a":36.1},{"s":"G19b","wn":1377,"a":37.7},{"s":"G19b","wn":1345,"a":37.2},{"s":"G19b","wn":1313,"a":37.7},{"s":"G19b","wn":1281,"a":40.4},{"s":"G19b","wn":1257,"a":43.7},{"s":"G19b","wn":1216,"a":44.1},{"s":"G19b","wn":1184,"a":43.1},{"s":"G19b","wn":1162,"a":42.7},{"s":"G19b","wn":1141,"a":39.7},{"s":"G19b","wn":1109,"a":38.1},{"s":"G19b","wn":1076,"a":36.4},{"s":"G19b","wn":1044,"a":35.1},{"s":"G19b","wn":1023,"a":34.7},{"s":"G19b","wn":990,"a":32.4},{"s":"G19b","wn":958,"a":29.7},{"s":"G19b","wn":920,"a":27.4},{"s":"G19b","wn":883,"a":29.4},{"s":"G19b","wn":851,"a":28.7},{"s":"G19b","wn":829,"a":32.1},{"s":"G19b","wn":815,"a":33.9},{"s":"G19b","wn":797,"a":30.4},{"s":"G19b","wn":775,"a":30.1},{"s":"G19b","wn":759,"a":31.1},{"s":"G19b","wn":748,"a":35.6},{"s":"G19b","wn":732,"a":33.1},{"s":"G19b","wn":719,"a":30.4},
{"s":"G10","wn":2000,"a":14.7},{"s":"G10","wn":1980,"a":14.9},{"s":"G10","wn":1958,"a":14.3},{"s":"G10","wn":1808,"a":14.3},{"s":"G10","wn":1775,"a":15.4},{"s":"G10","wn":1748,"a":19.7},{"s":"G10","wn":1732,"a":23.7},{"s":"G10","wn":1716,"a":26.5},{"s":"G10","wn":1700,"a":25.7},{"s":"G10","wn":1679,"a":25.1},{"s":"G10","wn":1652,"a":26.7},{"s":"G10","wn":1625,"a":29.1},{"s":"G10","wn":1603,"a":33.1},{"s":"G10","wn":1587,"a":31.1},{"s":"G10","wn":1566,"a":26.4},{"s":"G10","wn":1544,"a":22.4},{"s":"G10","wn":1526,"a":19.7},{"s":"G10","wn":1509,"a":25.7},{"s":"G10","wn":1485,"a":26.3},{"s":"G10","wn":1463,"a":27.7},{"s":"G10","wn":1442,"a":33.2},{"s":"G10","wn":1426,"a":30.4},{"s":"G10","wn":1401,"a":25.1},{"s":"G10","wn":1377,"a":27.7},{"s":"G10","wn":1345,"a":26.7},{"s":"G10","wn":1313,"a":26.4},{"s":"G10","wn":1281,"a":30.4},{"s":"G10","wn":1257,"a":35.9},{"s":"G10","wn":1222,"a":36.5},{"s":"G10","wn":1189,"a":35.1},{"s":"G10","wn":1168,"a":35.6},{"s":"G10","wn":1141,"a":32.1},{"s":"G10","wn":1109,"a":28.4},{"s":"G10","wn":1076,"a":23.7},{"s":"G10","wn":1049,"a":21.1},{"s":"G10","wn":1023,"a":22.7},{"s":"G10","wn":990,"a":19.1},{"s":"G10","wn":958,"a":16.4},{"s":"G10","wn":920,"a":14.1},{"s":"G10","wn":883,"a":15.4},{"s":"G10","wn":851,"a":16.4},{"s":"G10","wn":829,"a":19.7},{"s":"G10","wn":816,"a":22.7},{"s":"G10","wn":797,"a":19.1},{"s":"G10","wn":775,"a":17.7},{"s":"G10","wn":754,"a":18.7},{"s":"G10","wn":719,"a":15.1},
{"s":"Whitby","wn":2000,"a":7.7},{"s":"Whitby","wn":1985,"a":8.3},{"s":"Whitby","wn":1969,"a":7.6},{"s":"Whitby","wn":1915,"a":7.4},{"s":"Whitby","wn":1808,"a":7.4},{"s":"Whitby","wn":1732,"a":7.4},{"s":"Whitby","wn":1711,"a":7.7},{"s":"Whitby","wn":1689,"a":8.7},{"s":"Whitby","wn":1657,"a":10.4},{"s":"Whitby","wn":1625,"a":12.4},{"s":"Whitby","wn":1609,"a":15.7},{"s":"Whitby","wn":1598,"a":16.1},{"s":"Whitby","wn":1582,"a":14.4},{"s":"Whitby","wn":1560,"a":11.1},{"s":"Whitby","wn":1539,"a":8.1},{"s":"Whitby","wn":1523,"a":7.4},{"s":"Whitby","wn":1509,"a":14.7},{"s":"Whitby","wn":1496,"a":15.4},{"s":"Whitby","wn":1480,"a":14.3},{"s":"Whitby","wn":1463,"a":16.4},{"s":"Whitby","wn":1442,"a":21.7},{"s":"Whitby","wn":1426,"a":19.1},{"s":"Whitby","wn":1404,"a":14.4},{"s":"Whitby","wn":1386,"a":13.1},{"s":"Whitby","wn":1372,"a":15.6},{"s":"Whitby","wn":1345,"a":14.7},{"s":"Whitby","wn":1318,"a":15.2},{"s":"Whitby","wn":1291,"a":14.4},{"s":"Whitby","wn":1270,"a":17.7},{"s":"Whitby","wn":1254,"a":21.2},{"s":"Whitby","wn":1232,"a":20.1},{"s":"Whitby","wn":1211,"a":20.4},{"s":"Whitby","wn":1189,"a":19.4},{"s":"Whitby","wn":1162,"a":19.1},{"s":"Whitby","wn":1130,"a":15.1},{"s":"Whitby","wn":1098,"a":13.7},{"s":"Whitby","wn":1071,"a":12.4},{"s":"Whitby","wn":1049,"a":11.4},{"s":"Whitby","wn":1033,"a":11.7},{"s":"Whitby","wn":1012,"a":10.4},{"s":"Whitby","wn":980,"a":9.1},{"s":"Whitby","wn":947,"a":8.1},{"s":"Whitby","wn":910,"a":7.2},{"s":"Whitby","wn":872,"a":10.7},{"s":"Whitby","wn":851,"a":10.4},{"s":"Whitby","wn":829,"a":11.7},{"s":"Whitby","wn":810,"a":16.3},{"s":"Whitby","wn":791,"a":11.4},{"s":"Whitby","wn":770,"a":11.1},{"s":"Whitby","wn":748,"a":12.1},{"s":"Whitby","wn":719,"a":9.1}
],
"C": [
{"s":"G11","wn":2000,"a":36.4},{"s":"G11","wn":1968,"a":36.3},{"s":"G11","wn":1914,"a":36.4},{"s":"G11","wn":1806,"a":36.1},{"s":"G11","wn":1763,"a":37.3},{"s":"G11","wn":1731,"a":38.9},{"s":"G11","wn":1710,"a":42.3},{"s":"G11","wn":1688,"a":42.6},{"s":"G11","wn":1656,"a":42.3},{"s":"G11","wn":1624,"a":43.9},{"s":"G11","wn":1591,"a":46.3},{"s":"G11","wn":1565,"a":48.3},{"s":"G11","wn":1548,"a":47.9},{"s":"G11","wn":1527,"a":43.6},{"s":"G11","wn":1505,"a":39.6},{"s":"G11","wn":1484,"a":38.6},{"s":"G11","wn":1462,"a":43.6},{"s":"G11","wn":1435,"a":44.3},{"s":"G11","wn":1409,"a":45.1},{"s":"G11","wn":1387,"a":43.6},{"s":"G11","wn":1366,"a":42.9},{"s":"G11","wn":1323,"a":39.9},{"s":"G11","wn":1269,"a":39.5},{"s":"G11","wn":1226,"a":38.6},{"s":"G11","wn":1194,"a":40.3},{"s":"G11","wn":1161,"a":41.6},{"s":"G11","wn":1151,"a":40.9},{"s":"G11","wn":1129,"a":44.3},{"s":"G11","wn":1108,"a":50.9},{"s":"G11","wn":1091,"a":54.9},{"s":"G11","wn":1075,"a":54.4},{"s":"G11","wn":1054,"a":57.6},{"s":"G11","wn":1038,"a":64.3},{"s":"G11","wn":1027,"a":68.6},{"s":"G11","wn":1016,"a":67.9},{"s":"G11","wn":1005,"a":68.9},{"s":"G11","wn":989,"a":62.3},{"s":"G11","wn":973,"a":54.3},{"s":"G11","wn":957,"a":47.6},{"s":"G11","wn":935,"a":44.3},{"s":"G11","wn":914,"a":44.6},{"s":"G11","wn":892,"a":40.9},{"s":"G11","wn":871,"a":37.6},{"s":"G11","wn":844,"a":35.9},{"s":"G11","wn":817,"a":36.3},{"s":"G11","wn":801,"a":39.3},{"s":"G11","wn":790,"a":37.6},{"s":"G11","wn":774,"a":38.3},{"s":"G11","wn":753,"a":36.9},{"s":"G11","wn":720,"a":36.3},{"s":"G11","wn":700,"a":37.7},
{"s":"G9","wn":2000,"a":22.1},{"s":"G9","wn":1978,"a":22.4},{"s":"G9","wn":1957,"a":21.7},{"s":"G9","wn":1806,"a":21.7},{"s":"G9","wn":1763,"a":21.6},{"s":"G9","wn":1742,"a":22.9},{"s":"G9","wn":1710,"a":24.9},{"s":"G9","wn":1677,"a":27.6},{"s":"G9","wn":1645,"a":30.3},{"s":"G9","wn":1613,"a":32.3},{"s":"G9","wn":1597,"a":32.4},{"s":"G9","wn":1570,"a":30.9},{"s":"G9","wn":1548,"a":28.9},{"s":"G9","wn":1527,"a":26.3},{"s":"G9","wn":1505,"a":26.6},{"s":"G9","wn":1479,"a":26.3},{"s":"G9","wn":1462,"a":28.3},{"s":"G9","wn":1446,"a":30.3},{"s":"G9","wn":1430,"a":30.6},{"s":"G9","wn":1409,"a":29.3},{"s":"G9","wn":1376,"a":26.9},{"s":"G9","wn":1333,"a":23.3},{"s":"G9","wn":1301,"a":22.6},{"s":"G9","wn":1269,"a":23.3},{"s":"G9","wn":1247,"a":22.6},{"s":"G9","wn":1204,"a":22.4},{"s":"G9","wn":1183,"a":22.9},{"s":"G9","wn":1161,"a":24.9},{"s":"G9","wn":1129,"a":26.9},{"s":"G9","wn":1108,"a":32.3},{"s":"G9","wn":1086,"a":35.6},{"s":"G9","wn":1065,"a":40.3},{"s":"G9","wn":1043,"a":50.9},{"s":"G9","wn":1027,"a":56.9},{"s":"G9","wn":1016,"a":58.6},{"s":"G9","wn":1005,"a":58.3},{"s":"G9","wn":989,"a":54.3},{"s":"G9","wn":968,"a":46.3},{"s":"G9","wn":946,"a":38.9},{"s":"G9","wn":925,"a":34.3},{"s":"G9","wn":903,"a":31.6},{"s":"G9","wn":882,"a":27.6},{"s":"G9","wn":866,"a":26.9},{"s":"G9","wn":849,"a":22.3},{"s":"G9","wn":839,"a":21.6},{"s":"G9","wn":817,"a":22.8},{"s":"G9","wn":801,"a":24.9},{"s":"G9","wn":790,"a":23.9},{"s":"G9","wn":774,"a":24.3},{"s":"G9","wn":758,"a":23.6},{"s":"G9","wn":737,"a":22.6},{"s":"G9","wn":710,"a":21.3},{"s":"G9","wn":700,"a":22.6},
{"s":"G3","wn":2000,"a":7.5},{"s":"G3","wn":1978,"a":7.7},{"s":"G3","wn":1957,"a":7.3},{"s":"G3","wn":1806,"a":7.1},{"s":"G3","wn":1763,"a":7.6},{"s":"G3","wn":1731,"a":8.6},{"s":"G3","wn":1699,"a":10.3},{"s":"G3","wn":1667,"a":12.3},{"s":"G3","wn":1645,"a":13.9},{"s":"G3","wn":1613,"a":15.6},{"s":"G3","wn":1581,"a":17.7},{"s":"G3","wn":1559,"a":17.3},{"s":"G3","wn":1538,"a":14.3},{"s":"G3","wn":1522,"a":11.6},{"s":"G3","wn":1505,"a":11.3},{"s":"G3","wn":1484,"a":10.6},{"s":"G3","wn":1468,"a":13.9},{"s":"G3","wn":1452,"a":14.6},{"s":"G3","wn":1430,"a":13.9},{"s":"G3","wn":1376,"a":13.1},{"s":"G3","wn":1360,"a":12.9},{"s":"G3","wn":1349,"a":13.9},{"s":"G3","wn":1341,"a":16.3},{"s":"G3","wn":1333,"a":11.3},{"s":"G3","wn":1312,"a":10.6},{"s":"G3","wn":1290,"a":11.6},{"s":"G3","wn":1280,"a":13.5},{"s":"G3","wn":1263,"a":11.3},{"s":"G3","wn":1242,"a":13.6},{"s":"G3","wn":1220,"a":10.6},{"s":"G3","wn":1194,"a":8.9},{"s":"G3","wn":1177,"a":7.7},{"s":"G3","wn":1156,"a":8.9},{"s":"G3","wn":1145,"a":13.9},{"s":"G3","wn":1129,"a":14.9},{"s":"G3","wn":1113,"a":24.3},{"s":"G3","wn":1099,"a":30.6},{"s":"G3","wn":1086,"a":29.6},{"s":"G3","wn":1070,"a":26.9},{"s":"G3","wn":1059,"a":25.9},{"s":"G3","wn":1054,"a":24.9},{"s":"G3","wn":1043,"a":20.9},{"s":"G3","wn":1022,"a":18.9},{"s":"G3","wn":995,"a":15.6},{"s":"G3","wn":973,"a":11.9},{"s":"G3","wn":959,"a":15.6},{"s":"G3","wn":946,"a":15.3},{"s":"G3","wn":925,"a":11.6},{"s":"G3","wn":898,"a":8.3},{"s":"G3","wn":860,"a":7.3},{"s":"G3","wn":844,"a":11.9},{"s":"G3","wn":828,"a":8.9},{"s":"G3","wn":801,"a":9.6},{"s":"G3","wn":774,"a":9.3},{"s":"G3","wn":753,"a":8.6},{"s":"G3","wn":731,"a":7.6},{"s":"G3","wn":700,"a":7.7}
],
"D": [
{"s":"G29","wn":2000,"a":26.9},{"s":"G29","wn":1982,"a":27.6},{"s":"G29","wn":1966,"a":26.6},{"s":"G29","wn":1804,"a":26.6},{"s":"G29","wn":1772,"a":26.9},{"s":"G29","wn":1751,"a":29.6},{"s":"G29","wn":1738,"a":37.6},{"s":"G29","wn":1729,"a":41.6},{"s":"G29","wn":1718,"a":41.3},{"s":"G29","wn":1697,"a":41.3},{"s":"G29","wn":1675,"a":42.3},{"s":"G29","wn":1654,"a":43.6},{"s":"G29","wn":1632,"a":48.3},{"s":"G29","wn":1611,"a":54.9},{"s":"G29","wn":1595,"a":57.9},{"s":"G29","wn":1578,"a":57.3},{"s":"G29","wn":1562,"a":52.9},{"s":"G29","wn":1546,"a":48.3},{"s":"G29","wn":1530,"a":42.9},{"s":"G29","wn":1523,"a":39.3},{"s":"G29","wn":1509,"a":42.9},{"s":"G29","wn":1492,"a":44.3},{"s":"G29","wn":1471,"a":49.6},{"s":"G29","wn":1455,"a":55.6},{"s":"G29","wn":1439,"a":58.9},{"s":"G29","wn":1423,"a":56.9},{"s":"G29","wn":1406,"a":54.3},{"s":"G29","wn":1385,"a":53.3},{"s":"G29","wn":1374,"a":52.3},{"s":"G29","wn":1358,"a":48.9},{"s":"G29","wn":1337,"a":45.6},{"s":"G29","wn":1315,"a":44.3},{"s":"G29","wn":1288,"a":45.6},{"s":"G29","wn":1267,"a":51.3},{"s":"G29","wn":1251,"a":52.4},{"s":"G29","wn":1229,"a":51.9},{"s":"G29","wn":1202,"a":49.3},{"s":"G29","wn":1186,"a":48.9},{"s":"G29","wn":1170,"a":50.3},{"s":"G29","wn":1159,"a":49.6},{"s":"G29","wn":1143,"a":46.9},{"s":"G29","wn":1127,"a":44.3},{"s":"G29","wn":1111,"a":43.6},{"s":"G29","wn":1092,"a":43.6},{"s":"G29","wn":1068,"a":44.9},{"s":"G29","wn":1046,"a":49.6},{"s":"G29","wn":1030,"a":52.3},{"s":"G29","wn":1014,"a":50.9},{"s":"G29","wn":998,"a":46.3},{"s":"G29","wn":982,"a":40.3},{"s":"G29","wn":960,"a":34.3},{"s":"G29","wn":944,"a":29.6},{"s":"G29","wn":928,"a":26.6},{"s":"G29","wn":901,"a":26.9},{"s":"G29","wn":888,"a":27.3},{"s":"G29","wn":876,"a":34.9},{"s":"G29","wn":863,"a":28.3},{"s":"G29","wn":842,"a":32.3},{"s":"G29","wn":820,"a":33.6},{"s":"G29","wn":799,"a":30.9},{"s":"G29","wn":783,"a":30.6},{"s":"G29","wn":761,"a":31.6},{"s":"G29","wn":745,"a":30.9},{"s":"G29","wn":729,"a":26.9},{"s":"G29","wn":719,"a":26.6},
{"s":"G24","wn":2000,"a":17.9},{"s":"G24","wn":1982,"a":18.8},{"s":"G24","wn":1966,"a":17.7},{"s":"G24","wn":1804,"a":17.7},{"s":"G24","wn":1761,"a":18.3},{"s":"G24","wn":1751,"a":24.3},{"s":"G24","wn":1742,"a":34.3},{"s":"G24","wn":1733,"a":38.3},{"s":"G24","wn":1727,"a":39.3},{"s":"G24","wn":1718,"a":34.9},{"s":"G24","wn":1708,"a":30.3},{"s":"G24","wn":1686,"a":28.9},{"s":"G24","wn":1665,"a":30.3},{"s":"G24","wn":1643,"a":32.3},{"s":"G24","wn":1622,"a":37.3},{"s":"G24","wn":1600,"a":39.3},{"s":"G24","wn":1584,"a":38.6},{"s":"G24","wn":1568,"a":36.9},{"s":"G24","wn":1546,"a":33.6},{"s":"G24","wn":1530,"a":30.9},{"s":"G24","wn":1523,"a":29.9},{"s":"G24","wn":1509,"a":32.3},{"s":"G24","wn":1492,"a":38.3},{"s":"G24","wn":1476,"a":44.9},{"s":"G24","wn":1460,"a":52.3},{"s":"G24","wn":1444,"a":60.9},{"s":"G24","wn":1433,"a":62.4},{"s":"G24","wn":1423,"a":59.6},{"s":"G24","wn":1406,"a":53.6},{"s":"G24","wn":1385,"a":46.3},{"s":"G24","wn":1363,"a":38.9},{"s":"G24","wn":1342,"a":34.9},{"s":"G24","wn":1315,"a":34.3},{"s":"G24","wn":1304,"a":33.6},{"s":"G24","wn":1283,"a":36.3},{"s":"G24","wn":1267,"a":40.6},{"s":"G24","wn":1251,"a":39.9},{"s":"G24","wn":1240,"a":41.6},{"s":"G24","wn":1224,"a":38.3},{"s":"G24","wn":1211,"a":35.3},{"s":"G24","wn":1197,"a":41.3},{"s":"G24","wn":1181,"a":38.9},{"s":"G24","wn":1165,"a":40.3},{"s":"G24","wn":1146,"a":46.6},{"s":"G24","wn":1132,"a":42.9},{"s":"G24","wn":1116,"a":36.9},{"s":"G24","wn":1095,"a":30.3},{"s":"G24","wn":1073,"a":29.3},{"s":"G24","wn":1052,"a":27.9},{"s":"G24","wn":1030,"a":26.9},{"s":"G24","wn":1009,"a":24.3},{"s":"G24","wn":992,"a":25.6},{"s":"G24","wn":976,"a":23.3},{"s":"G24","wn":960,"a":21.6},{"s":"G24","wn":944,"a":18.9},{"s":"G24","wn":923,"a":18.4},{"s":"G24","wn":896,"a":17.6},{"s":"G24","wn":885,"a":19.6},{"s":"G24","wn":877,"a":35.6},{"s":"G24","wn":866,"a":22.3},{"s":"G24","wn":853,"a":21.6},{"s":"G24","wn":837,"a":22.1},{"s":"G24","wn":820,"a":20.6},{"s":"G24","wn":799,"a":20.3},{"s":"G24","wn":783,"a":20.9},{"s":"G24","wn":772,"a":20.3},{"s":"G24","wn":756,"a":24.6},{"s":"G24","wn":740,"a":20.3},{"s":"G24","wn":719,"a":19.6},
{"s":"G23","wn":2000,"a":9.5},{"s":"G23","wn":1982,"a":9.9},{"s":"G23","wn":1966,"a":8.9},{"s":"G23","wn":1804,"a":8.8},{"s":"G23","wn":1772,"a":9.3},{"s":"G23","wn":1751,"a":11.6},{"s":"G23","wn":1729,"a":14.3},{"s":"G23","wn":1708,"a":18.9},{"s":"G23","wn":1686,"a":21.6},{"s":"G23","wn":1665,"a":24.9},{"s":"G23","wn":1643,"a":27.6},{"s":"G23","wn":1622,"a":30.9},{"s":"G23","wn":1600,"a":32.3},{"s":"G23","wn":1578,"a":32.8},{"s":"G23","wn":1562,"a":31.6},{"s":"G23","wn":1546,"a":28.3},{"s":"G23","wn":1530,"a":24.3},{"s":"G23","wn":1523,"a":22.4},{"s":"G23","wn":1509,"a":23.3},{"s":"G23","wn":1492,"a":24.3},{"s":"G23","wn":1476,"a":25.6},{"s":"G23","wn":1460,"a":29.6},{"s":"G23","wn":1439,"a":33.6},{"s":"G23","wn":1417,"a":34.6},{"s":"G23","wn":1396,"a":32.9},{"s":"G23","wn":1374,"a":30.3},{"s":"G23","wn":1353,"a":26.3},{"s":"G23","wn":1337,"a":23.9},{"s":"G23","wn":1320,"a":24.6},{"s":"G23","wn":1310,"a":24.3},{"s":"G23","wn":1294,"a":22.3},{"s":"G23","wn":1267,"a":22.6},{"s":"G23","wn":1245,"a":23.1},{"s":"G23","wn":1218,"a":21.9},{"s":"G23","wn":1191,"a":20.6},{"s":"G23","wn":1170,"a":19.9},{"s":"G23","wn":1159,"a":19.3},{"s":"G23","wn":1138,"a":17.9},{"s":"G23","wn":1095,"a":17.9},{"s":"G23","wn":1073,"a":17.9},{"s":"G23","wn":1052,"a":19.3},{"s":"G23","wn":1030,"a":20.4},{"s":"G23","wn":1009,"a":19.7},{"s":"G23","wn":987,"a":17.6},{"s":"G23","wn":966,"a":13.6},{"s":"G23","wn":944,"a":10.9},{"s":"G23","wn":922,"a":9.6},{"s":"G23","wn":896,"a":8.6},{"s":"G23","wn":885,"a":10.3},{"s":"G23","wn":876,"a":15.6},{"s":"G23","wn":866,"a":10.9},{"s":"G23","wn":853,"a":8.9},{"s":"G23","wn":837,"a":10.3},{"s":"G23","wn":815,"a":10.1},{"s":"G23","wn":794,"a":11.0},{"s":"G23","wn":783,"a":12.3},{"s":"G23","wn":772,"a":11.3},{"s":"G23","wn":751,"a":11.0},{"s":"G23","wn":734,"a":9.6},{"s":"G23","wn":719,"a":8.9}
]
},
"concat": [
 {"width": 403, "height": 720,
  "layer": [
   {"data": {"name": "peaksA"}, "mark": {"type": "rule", "color": "#A6A6A6", "strokeWidth": 1.2},
    "encoding": {
     "x": {"field": "wn", "type": "quantitative", "scale": {"domain": [2000, 700], "nice": false, "zero": false},
       "axis": {"title": "Wavenumber (cm⁻¹)", "values": [2000,1900,1800,1700,1600,1500,1400,1300,1200,1100,1000,900,800,700], "format": "d", "labelExpr": "datum.value % 500 === 0 ? datum.label : ''", "labelOverlap": false, "labelFlush": false, "tickSize": 5, "tickWidth": 1.5, "domainWidth": 1.5, "labelFontSize": 24, "labelPadding": 6, "titleFontSize": 25, "titleFontWeight": "normal", "titlePadding": 10, "grid": false}},
     "y": {"datum": 0, "type": "quantitative", "scale": {"domain": [0, 144], "nice": false, "zero": false}, "axis": {"title": null, "labels": false, "ticks": false, "grid": false, "domainWidth": 2}},
     "y2": {"datum": 136.4}}},
   {"data": {"name": "peaksA"}, "mark": {"type": "text", "angle": 270, "align": "left", "baseline": "middle", "fontStyle": "italic", "fontSize": 21, "color": "#222"},
    "encoding": {"x": {"field": "lx", "type": "quantitative"}, "y": {"datum": 137.4, "type": "quantitative"}, "text": {"field": "wn", "type": "nominal"}}},
   {"data": {"name": "A"}, "mark": {"type": "line"},
    "encoding": {"x": {"field": "wn", "type": "quantitative"}, "y": {"field": "a", "type": "quantitative"},
     "color": {"field": "s", "type": "nominal", "legend": null, "scale": {"domain": ["G16","G15","G4","G2","G22","G13","G1","G5","Lelle"], "range": ["#4472C4","#5A5A5A","#A0441B","#255E91","#70AD47","#FFC000","#5B9BD5","#C00000","#000000"]}}}},
   {"data": {"name": "labA"}, "mark": {"type": "text", "align": "left", "baseline": "alphabetic", "fontSize": 31, "color": "#000"},
    "encoding": {"x": {"field": "wn", "type": "quantitative"}, "y": {"field": "a", "type": "quantitative"}, "text": {"field": "s", "type": "nominal"}}}
  ]},
 {"width": 397, "height": 720,
  "layer": [
   {"data": {"name": "peaksB"}, "mark": {"type": "rule", "color": "#A6A6A6", "strokeWidth": 1.2},
    "encoding": {
     "x": {"field": "wn", "type": "quantitative", "scale": {"domain": [2000, 719], "nice": false, "zero": false},
       "axis": {"title": "Wavenumber (cm⁻¹)", "values": [2000,1900,1800,1700,1600,1500,1400,1300,1200,1100,1000,900,800], "format": "d", "labelExpr": "datum.value % 500 === 0 ? datum.label : ''", "labelOverlap": false, "labelFlush": false, "tickSize": 5, "tickWidth": 1.5, "domainWidth": 1.5, "labelFontSize": 24, "labelPadding": 6, "titleFontSize": 25, "titleFontWeight": "normal", "titlePadding": 10, "grid": false}},
     "y": {"datum": 0, "type": "quantitative", "scale": {"domain": [0, 144], "nice": false, "zero": false}, "axis": {"title": null, "labels": false, "ticks": false, "grid": false, "domainWidth": 2}},
     "y2": {"datum": 134.4}}},
   {"data": {"name": "peaksB"}, "mark": {"type": "text", "angle": 270, "align": "left", "baseline": "middle", "fontStyle": "italic", "fontSize": 21, "color": "#222"},
    "encoding": {"x": {"field": "lx", "type": "quantitative"}, "y": {"datum": 136.8, "type": "quantitative"}, "text": {"field": "wn", "type": "nominal"}}},
   {"data": {"name": "B"}, "transform": [{"filter": "datum.s !== 'G19b'"}], "mark": {"type": "line"},
    "encoding": {"x": {"field": "wn", "type": "quantitative"}, "y": {"field": "a", "type": "quantitative"},
     "color": {"field": "s", "type": "nominal", "legend": null, "scale": {"domain": ["G32","G30","G20","G14","G27","G25","G19","G10","Whitby"], "range": ["#4472C4","#FFC000","#A5A5A5","#5B9BD5","#997300","#636363","#B5481A","#255E91","#000000"]}}}},
   {"data": {"name": "B"}, "transform": [{"filter": "datum.s === 'G19b'"}], "mark": {"type": "line", "strokeDash": [4, 3], "color": "#8C6A12"},
    "encoding": {"x": {"field": "wn", "type": "quantitative"}, "y": {"field": "a", "type": "quantitative"}}},
   {"data": {"name": "labB"}, "mark": {"type": "text", "align": "left", "baseline": "alphabetic", "fontSize": 31, "color": "#000"},
    "encoding": {"x": {"field": "wn", "type": "quantitative"}, "y": {"field": "a", "type": "quantitative"}, "text": {"field": "s", "type": "nominal"}}}
  ]},
 {"width": 403, "height": 360,
  "layer": [
   {"data": {"name": "C"}, "mark": {"type": "line"},
    "encoding": {
     "x": {"field": "wn", "type": "quantitative", "scale": {"domain": [2000, 700], "nice": false, "zero": false},
       "axis": {"title": "Wavenumber (cm⁻¹)", "values": [2000,1900,1800,1700,1600,1500,1400,1300,1200,1100,1000,900,800,700], "format": "d", "labelExpr": "datum.value % 500 === 0 ? datum.label : ''", "labelOverlap": false, "labelFlush": false, "tickSize": 5, "tickWidth": 1.5, "domainWidth": 1.5, "labelFontSize": 24, "labelPadding": 6, "titleFontSize": 25, "titleFontWeight": "normal", "titlePadding": 10, "grid": false}},
     "y": {"field": "a", "type": "quantitative", "scale": {"domain": [0, 72], "nice": false, "zero": false}, "axis": {"title": null, "labels": false, "ticks": false, "grid": false, "domainWidth": 2}},
     "color": {"field": "s", "type": "nominal", "legend": null, "scale": {"domain": ["G11","G9","G3"], "range": ["#A5A5A5","#5B9BD5","#ED7D31"]}}}},
   {"data": {"name": "labC"}, "mark": {"type": "text", "align": "left", "baseline": "alphabetic", "fontSize": 31, "color": "#000"},
    "encoding": {"x": {"field": "wn", "type": "quantitative"}, "y": {"field": "a", "type": "quantitative"}, "text": {"field": "s", "type": "nominal"}}}
  ]},
 {"width": 397, "height": 360,
  "layer": [
   {"data": {"name": "D"}, "mark": {"type": "line"},
    "encoding": {
     "x": {"field": "wn", "type": "quantitative", "scale": {"domain": [2000, 719], "nice": false, "zero": false},
       "axis": {"title": "Wavenumber (cm⁻¹)", "values": [2000,1900,1800,1700,1600,1500,1400,1300,1200,1100,1000,900,800], "format": "d", "labelExpr": "datum.value % 500 === 0 ? datum.label : ''", "labelOverlap": false, "labelFlush": false, "tickSize": 5, "tickWidth": 1.5, "domainWidth": 1.5, "labelFontSize": 24, "labelPadding": 6, "titleFontSize": 25, "titleFontWeight": "normal", "titlePadding": 10, "grid": false}},
     "y": {"field": "a", "type": "quantitative", "scale": {"domain": [0, 72], "nice": false, "zero": false}, "axis": {"title": null, "labels": false, "ticks": false, "grid": false, "domainWidth": 2}},
     "color": {"field": "s", "type": "nominal", "legend": null, "scale": {"domain": ["G29","G24","G23"], "range": ["#A5A5A5","#5B9BD5","#ED7D31"]}}}},
   {"data": {"name": "labD"}, "mark": {"type": "text", "align": "left", "baseline": "alphabetic", "fontSize": 31, "color": "#000"},
    "encoding": {"x": {"field": "wn", "type": "quantitative"}, "y": {"field": "a", "type": "quantitative"}, "text": {"field": "s", "type": "nominal"}}}
  ]}
],
"resolve": {"scale": {"color": "independent", "x": "independent", "y": "independent"}}
}
